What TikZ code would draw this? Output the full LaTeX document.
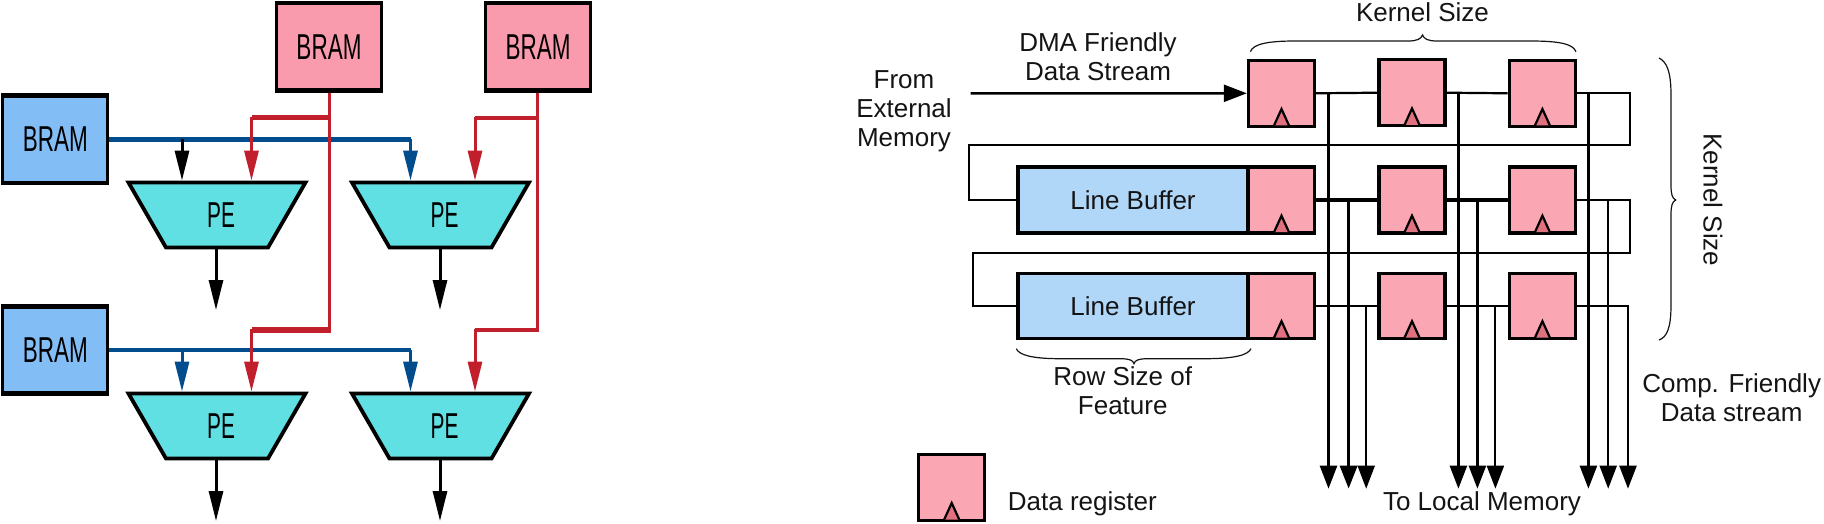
\documentclass[tikz,border=0pt]{standalone}
\usepackage{fontspec}
\setmainfont{Liberation Sans}
\usetikzlibrary{arrows.meta,shapes.geometric}
\definecolor{ramred}{HTML}{F99BAC}
\definecolor{ramblue}{HTML}{82BDF6}
\definecolor{peteal}{HTML}{60E0E2}
\definecolor{busred}{HTML}{C01F2B}
\definecolor{busblue}{HTML}{004C8C}
\definecolor{regpink}{HTML}{FAA7B3}
\definecolor{clkpink}{HTML}{E0717F}
\definecolor{lbblue}{HTML}{B0D6F8}
\definecolor{inkdark}{HTML}{141414}
\tikzset{
  bram/.style={draw=black,line width=3pt,minimum width=105pt,minimum height=88.7pt,inner sep=0pt,
    font=\fontsize{36}{40}\selectfont},
  penode/.style={draw=black,line width=3.8pt,fill=peteal,trapezium,shape border rotate=180,
    trapezium stretches=true,trapezium angle=62,minimum width=178pt,minimum height=65pt,inner sep=0pt,
    font=\fontsize{36}{40}\selectfont},
  reg/.style={draw=black,line width=3.4pt,fill=regpink,minimum width=66pt,minimum height=66pt,inner sep=0pt},
  linebuf/.style={draw=black,line width=3.4pt,fill=lbblue,minimum width=230pt,minimum height=66pt,inner sep=0pt,
    text=inkdark,font=\fontsize{26}{29}\selectfont},
  lbl/.style={inner sep=0pt,align=center,text=inkdark,font=\fontsize{26}{29}\selectfont},
  clk/.style={draw=black,line width=2.2pt,fill=clkpink,line join=miter},
  wire/.style={draw=black,line width=2.2pt},
  thickwire/.style={draw=black,line width=3.6pt},
  drop/.style={draw=black,line width=2.4pt,-{Triangle[length=23pt,width=17pt]}},
  brace/.style={draw=inkdark,line width=1.2pt},
  blackbus/.style={draw=black,line width=3pt,-{Triangle[length=30pt,width=14pt]}},
  redbus/.style={draw=busred,line width=3pt},
  redtip/.style={draw=busred,fill=busred,line width=3pt,-{Triangle[length=30pt,width=14pt]}},
  bluebus/.style={draw=busblue,line width=4.2pt},
  bluetip/.style={draw=busblue,line width=3pt,-{Triangle[length=30pt,width=14pt]}},
  hedge/.style={draw=black,line width=4.8pt}
}
\newcommand{\narrowbram}{\scalebox{.625}[1]{BRAM}}
\newcommand{\narrowpe}{\hspace{8pt}\scalebox{.58}[1]{PE}}
% heavier top and bottom rules of a memory block
\newcommand{\ramedges}[1]{%
  \draw[hedge] ([yshift=-2pt]#1.north west) -- ([yshift=-2pt]#1.north east);
  \draw[hedge] ([yshift=2pt]#1.south west) -- ([yshift=2pt]#1.south east);}
% clock triangle sitting on the bottom edge of a register
\newcommand{\clockmark}[1]{%
  \draw[clk] ([xshift=-7.5pt,yshift=2.5pt]#1.south) -- ([yshift=19pt]#1.south) -- ([xshift=7.5pt,yshift=2.5pt]#1.south);}
\begin{document}
\begin{tikzpicture}[x=1pt,y=-1pt]
\useasboundingbox (0,0) rectangle (1824,524);

% ---- memory blocks and processing elements ----
\node[bram,fill=ramred] (bt1) at (329,46.8) {\narrowbram};
\node[bram,fill=ramred] (bt2) at (538,46.8) {\narrowbram};
\node[bram,fill=ramblue] (bl1) at (55.3,139.2) {\narrowbram};
\node[bram,fill=ramblue] (bl2) at (55.3,350) {\narrowbram};
\ramedges{bt1}\ramedges{bt2}\ramedges{bl1}\ramedges{bl2}

\node[penode] (pe1) at (217,215) {\narrowpe};
\node[penode] (pe2) at (440.5,215) {\narrowpe};
\node[penode] (pe3) at (217,426) {\narrowpe};
\node[penode] (pe4) at (440.5,426) {\narrowpe};

% named bends of the buses
\coordinate (ra1) at (329.5,118);
\coordinate (ra2) at (251.5,118);
\coordinate (ra3) at (329.5,330);
\coordinate (ra4) at (251.5,330);
\coordinate (rb1) at (537.7,118);
\coordinate (rb2) at (475,118);
\coordinate (rb3) at (537.7,330);
\coordinate (rb4) at (475,330);
\coordinate (ba1) at (182,139.5);
\coordinate (ba2) at (410.5,139.5);
\coordinate (bb1) at (182,350);
\coordinate (bb2) at (410.5,350);
\coordinate (out1) at (216,310);
\coordinate (out2) at (440,310);
\coordinate (out3) at (216,521);
\coordinate (out4) at (440,521);

% blue buses
\draw[bluebus] (bl1.east |- ba1) -- (ba2);
\draw[blackbus] (ba1) -- (ba1 |- pe1.north);
\draw[bluetip] (ba2) -- (ba2 |- pe2.north);
\draw[bluebus,line width=3.8pt] (bl2.east |- bb1) -- (bb2);
\draw[bluetip] (bb1) -- (bb1 |- pe3.north);
\draw[bluetip] (bb2) -- (bb2 |- pe4.north);

% red buses
\draw[redbus,line join=miter] (bt1.south -| ra1) -- (ra3);
\draw[redbus,line width=5pt] (ra1) -- (ra2);
\draw[redtip] ([yshift=1pt]ra2) -- (ra2 |- pe1.north);
\draw[redbus,line width=5.6pt] ([xshift=1.5pt]ra3) -- (ra4);
\draw[redtip] ([yshift=1pt]ra4) -- (ra4 |- pe3.north);

\draw[redbus] (bt2.south -| rb1) -- (rb3);
\draw[redbus,line width=4pt] (rb1) -- (rb2);
\draw[redtip] ([yshift=1pt]rb2) -- (rb2 |- pe2.north);
\draw[redbus,line width=4pt] ([xshift=1.5pt]rb3) -- (rb4);
\draw[redtip] ([yshift=1pt]rb4) -- (rb4 |- pe4.north);

% outputs of the processing elements
\draw[blackbus] (pe1.south -| out1) -- (out1);
\draw[blackbus] (pe2.south -| out2) -- (out2);
\draw[blackbus] (pe3.south -| out3) -- (out3);
\draw[blackbus] (pe4.south -| out4) -- (out4);

% ---- sliding-window register array ----
\coordinate (in) at (970.7,93.4);
\coordinate (ret1) at (1630.3,144.7);
\coordinate (ret1b) at (969,144.7);
\coordinate (ret2) at (1630.3,253);
\coordinate (ret2b) at (973,253);

\coordinate (o11) at (1328.5,488.7);
\coordinate (o12) at (1348.6,488.7);
\coordinate (o13) at (1366.2,488.7);
\coordinate (o21) at (1458.4,488.7);
\coordinate (o22) at (1477.4,488.7);
\coordinate (o23) at (1495.4,488.7);
\coordinate (o31) at (1588.4,488.7);
\coordinate (o32) at (1608.2,488.7);
\coordinate (o33) at (1628,488.7);

% registers and line buffers
\node[reg] (r11) at (1281.5,93.3) {};
\node[reg] (r12) at (1412,92.7) {};
\node[reg] (r13) at (1542.4,93.3) {};
\node[linebuf] (lb1) at (1133,200) {Line Buffer};
\node[reg] (r21) at (1281.5,200) {};
\node[reg] (r22) at (1412,200) {};
\node[reg] (r23) at (1542.4,200) {};
\node[linebuf,minimum height=65pt] (lb2) at (1133,306) {Line Buffer};
\node[reg,minimum height=65pt] (r31) at (1281.5,306) {};
\node[reg,minimum height=65pt] (r32) at (1412,306) {};
\node[reg,minimum height=65pt] (r33) at (1542.4,306) {};
\node[reg] (legend) at (951.7,487.3) {};
\foreach \r in {r11,r12,r13,r21,r22,r23,r31,r32,r33,legend}{\clockmark{\r}}

% stream wiring
\draw[draw=black,line width=2.4pt,-{Triangle[length=23pt,width=17pt]}] (in) -- (r11.west);
\draw[wire] (r11.east) -- (r12.west);
\draw[wire] (r12.east) -- (r13.west);
\draw[wire] (r13.east) -| (ret1) -- (ret1b) |- (lb1.west);
\draw[thickwire] (r21.east) -- (r22.west);
\draw[thickwire] (r22.east) -- (r23.west);
\draw[wire] (r23.east) -| (ret2) -- (ret2b) |- (lb2.west);
\draw[wire,line width=2.6pt] (r31.east) -- (r32.west);
\draw[wire,line width=2.6pt] (r32.east) -- (r33.west);

% taps towards local memory
\draw[drop] (r11.east -| o11) -- (o11);
\draw[drop] (r12.east -| o21) -- (o21);
\draw[drop] (r13.east -| o31) -- (o31);
\draw[drop,line width=3.4pt] (r21.east -| o12) -- (o12);
\draw[drop] (r22.east -| o22) -- (o22);
\draw[drop,line width=2pt] (r23.east -| o32) -- (o32);
\draw[drop,line width=2pt] (r31.east -| o13) -- (o13);
\draw[drop,line width=2pt] (r32.east -| o23) -- (o23);
\draw[drop,line width=2.4pt] (r33.east) -| (o33);

% braces
\coordinate (tb1) at (1250.4,51.7);
\coordinate (tb2) at (1422.5,35);
\coordinate (tb3) at (1576,51.7);
\draw[brace] (tb1) .. controls (1253,44) and (1268,41) .. (1295,41) -- (1408,41)
  .. controls (1417,41) and (1421,39) .. (tb2)
  .. controls (1424,39) and (1428,41) .. (1437,41) -- (1530,41)
  .. controls (1560,41) and (1573,44) .. (tb3);
\coordinate (rb5) at (1659,58);
\coordinate (rb6) at (1675.7,200);
\coordinate (rb7) at (1659,340);
\draw[brace] (rb5) .. controls (1667,62) and (1671,72) .. (1671,95) -- (1671,185)
  .. controls (1671,194) and (1672,198) .. (rb6)
  .. controls (1672,202) and (1671,206) .. (1671,215) -- (1671,305)
  .. controls (1671,328) and (1667,337) .. (rb7);
\coordinate (bb5) at (1016.3,348.7);
\coordinate (bb6) at (1134,363.7);
\coordinate (bb7) at (1251,348.7);
\draw[brace] (bb5) .. controls (1019,355) and (1032,358.7) .. (1060,358.7) -- (1120,358.7)
  .. controls (1129,358.7) and (1133,360) .. (bb6)
  .. controls (1135,360) and (1139,358.7) .. (1148,358.7) -- (1205,358.7)
  .. controls (1235,358.7) and (1248,355) .. (bb7);

% labels
\node[lbl] (from) at (904,111) {From\\External\\Memory};
\node[lbl] (dma) at (1098,57) {DMA Friendly\\Data Stream};
\node[lbl] (ks1) at (1422.5,12) {Kernel Size};
\node[lbl,rotate=-90] (ks2) at (1713,200) {Kernel Size};
\node[lbl] (row) at (1122.7,391) {Row Size of\\Feature};
\node[lbl] (comp) at (1731.7,398) {Comp. Friendly\\Data stream};
\node[lbl] (local) at (1482,503.7) {To Local Memory};
\node[lbl,anchor=west] (regname) at (1007.7,503.7) {Data register};
\end{tikzpicture}
\end{document}
